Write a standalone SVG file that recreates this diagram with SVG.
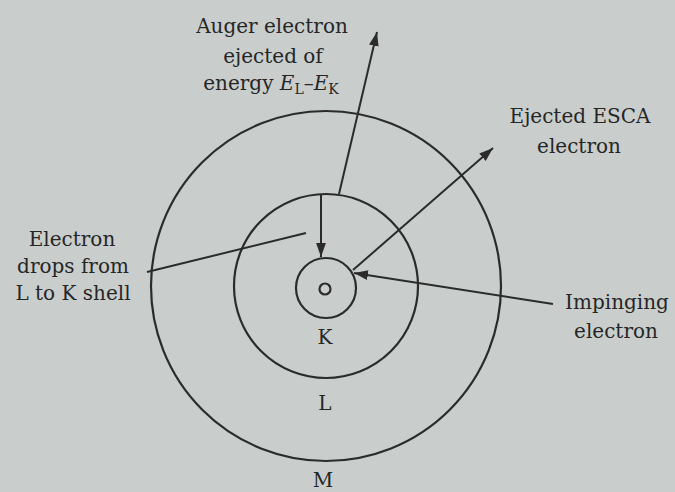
<svg xmlns="http://www.w3.org/2000/svg" width="675" height="492" viewBox="0 0 675 492">
<style>
.sh{fill:none;stroke:#2b2b2b;stroke-width:2.2}
.ln{fill:none;stroke:#2b2b2b;stroke-width:2}
text{font-family:"DejaVu Serif","Liberation Serif",serif;font-size:20px;fill:#262626;text-anchor:middle}
.it{font-style:italic}
.sub{font-size:14px}
</style>
<defs>
<marker id="ah" viewBox="0 0 10 10" refX="10" refY="5" markerWidth="14" markerHeight="14" markerUnits="userSpaceOnUse" orient="auto">
<path d="M0,1.5 L10,5 L0,8.5 Z" fill="#2b2b2b"/>
</marker>
</defs>
<rect width="675" height="492" fill="#c9cecd"/>
<g id="shell-M"><circle class="sh" cx="326" cy="286" r="175"/><text x="323" y="487">M</text></g>
<g id="shell-L"><circle class="sh" cx="326" cy="286" r="92"/><text x="325" y="410">L</text></g>
<g id="shell-K"><circle class="sh" cx="326" cy="288" r="30"/><text x="325" y="344">K</text></g>
<g id="nucleus"><circle class="sh" cx="325" cy="289" r="5.5" stroke-width="1.8"/></g>
<g id="connectors">
<line class="ln" x1="339" y1="194" x2="377" y2="32" marker-end="url(#ah)"/>
<line class="ln" x1="321" y1="194" x2="321" y2="257" marker-end="url(#ah)"/>
<line class="ln" x1="147" y1="272" x2="306" y2="233"/>
<line class="ln" x1="353" y1="270" x2="493" y2="148" marker-end="url(#ah)"/>
<line class="ln" x1="553" y1="304" x2="354" y2="273" marker-end="url(#ah)"/>
</g>
<g id="label-auger">
<text x="272" y="33">Auger electron</text>
<text x="273" y="63">ejected of</text>
<text x="271" y="90">energy <tspan class="it">E</tspan><tspan class="sub" dy="4">L</tspan><tspan dy="-4">–</tspan><tspan class="it">E</tspan><tspan class="sub" dy="4">K</tspan></text>
</g>
<g id="label-drop">
<text x="72" y="246">Electron</text>
<text x="73" y="273">drops from</text>
<text x="73" y="300">L to K shell</text>
</g>
<g id="label-esca">
<text x="580" y="123">Ejected ESCA</text>
<text x="579" y="153">electron</text>
</g>
<g id="label-imp">
<text x="617" y="309">Impinging</text>
<text x="616" y="338">electron</text>
</g>
</svg>
